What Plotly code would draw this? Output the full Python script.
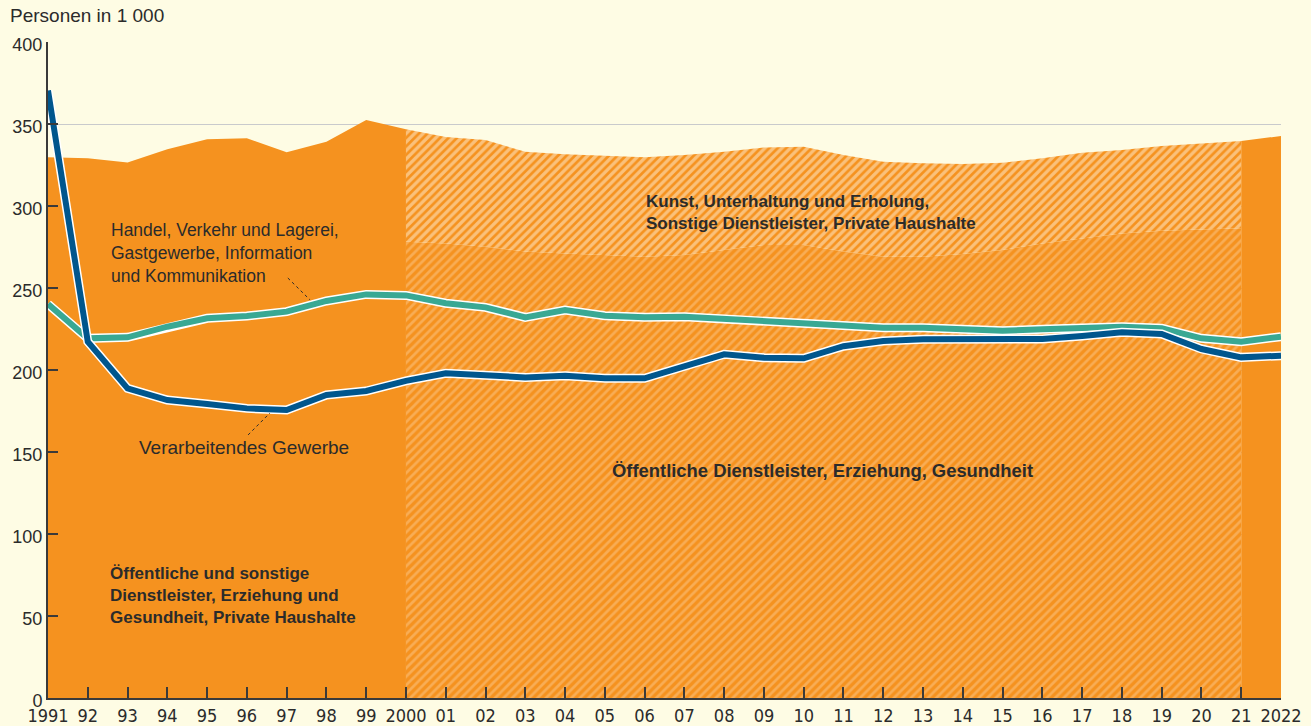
import plotly.graph_objects as go

# ---- data (Personen in 1 000) ----
years = list(range(1991, 2023))
tick_text = ["1991", "92", "93", "94", "95", "96", "97", "98", "99", "2000",
             "01", "02", "03", "04", "05", "06", "07", "08", "09", "10",
             "11", "12", "13", "14", "15", "16", "17", "18", "19", "20",
             "21", "2022"]

# total of the services area (top edge of the orange area)
total_services = [329.7, 329.1, 326.6, 334.6, 340.7, 341.3, 332.7, 339.2, 352.4, 346.8,
                  342.0, 340.2, 333.1, 331.5, 330.5, 329.7, 331.1, 333.1, 335.6, 336.2,
                  331.1, 327.0, 326.0, 325.6, 326.4, 329.1, 332.5, 334.1, 336.6, 338.2,
                  339.6, 342.7]

# split 2000-2021: Öffentliche Dienstleister, Erziehung, Gesundheit
split_years = list(range(2000, 2022))
oeffentliche = [278.2, 277.2, 275.2, 272.2, 271.1, 270.1, 269.1, 270.1, 273.2, 276.2,
                276.2, 272.2, 269.1, 269.1, 270.7, 273.2, 277.2, 280.3, 283.3, 284.9,
                285.8, 286.4]

handel = [240.2, 219.3, 219.9, 226.4, 231.5, 232.9, 235.6, 242.1, 246.1, 245.5,
          240.7, 238.2, 232.1, 236.6, 233.1, 232.1, 232.5, 231.1, 229.9, 227.8,
          226.9, 225.8, 225.8, 225.0, 224.0, 224.8, 225.4, 226.4, 225.4, 219.3,
          217.3, 220.3]

verarbeitend = [370.5, 217.3, 188.8, 181.7, 179.3, 176.6, 175.6, 184.8, 187.2, 193.4,
                198.0, 197.0, 195.5, 196.5, 194.9, 194.9, 202.4, 209.6, 207.5, 207.1,
                214.5, 217.7, 218.7, 218.9, 218.9, 218.9, 220.7, 223.0, 222.0, 212.8,
                207.7, 208.7]

# ---- styles ----
BG = "#FEFCE4"
ORANGE = "#F5921F"
BLUE = "#00568D"
GREEN = "#39A893"
TXT = "#2B2B2B"
FONT = "Liberation Sans, Arial, sans-serif"
NARROW = "Liberation Sans Narrow, Arial Narrow, DejaVu Sans Condensed, Liberation Sans, sans-serif"

idx = {y: i for i, y in enumerate(years)}
i2000, i2021 = idx[2000], idx[2021]

fig = go.Figure()

# solid area 1991-2000
fig.add_trace(go.Scatter(x=years[:i2000 + 1], y=total_services[:i2000 + 1],
                         mode="lines", line=dict(width=0), fill="tozeroy",
                         fillcolor=ORANGE, hoverinfo="skip", showlegend=False))
# hatched lower band 2000-2021
fig.add_trace(go.Scatter(x=split_years, y=oeffentliche, mode="lines", line=dict(width=0),
                         fill="tozeroy", fillcolor=ORANGE,
                         fillpattern=dict(shape="/", bgcolor=ORANGE, fgcolor="#FCC78C",
                                          size=6, solidity=0.45),
                         hoverinfo="skip", showlegend=False))
# hatched upper band 2000-2021
fig.add_trace(go.Scatter(x=split_years, y=total_services[i2000:i2021 + 1], mode="lines",
                         line=dict(width=0), fill="tonexty", fillcolor=ORANGE,
                         fillpattern=dict(shape="/", bgcolor=ORANGE, fgcolor="#FFF0D8",
                                          size=6, solidity=0.55),
                         hoverinfo="skip", showlegend=False))
# solid area 2021-2022
fig.add_trace(go.Scatter(x=years[i2021:], y=total_services[i2021:], mode="lines",
                         line=dict(width=0), fill="tozeroy", fillcolor=ORANGE,
                         hoverinfo="skip", showlegend=False))

# lines with white outline
for vals, col in ((handel, GREEN), (verarbeitend, BLUE)):
    fig.add_trace(go.Scatter(x=years, y=vals, mode="lines",
                             line=dict(color="white", width=9),
                             hoverinfo="skip", showlegend=False))
    fig.add_trace(go.Scatter(x=years, y=vals, mode="lines",
                             line=dict(color=col, width=6),
                             showlegend=False))

ann = []
def txt(x, y, s, bold=False, xanchor="left", size=18, align="left"):
    ann.append(dict(x=x, y=y, xref="x", yref="y", text=f"<b>{s}</b>" if bold else s,
                    showarrow=False, xanchor=xanchor, yanchor="middle", align=align,
                    font=dict(family=FONT, size=size, color=TXT)))

txt(1992.54, 271.3, "Handel, Verkehr und Lagerei,<br>Gastgewerbe, Information<br>und Kommunikation",
    size=17.5)
txt(1995.94, 153.0, "Verarbeitendes Gewerbe", xanchor="center", size=19)
txt(2005.99, 296.0, "Kunst, Unterhaltung und Erholung,<br>Sonstige Dienstleister, Private Haushalte",
    bold=True, size=17)
txt(2010.46, 139.0, "Öffentliche Dienstleister, Erziehung, Gesundheit", xanchor="center",
    bold=True, size=18.4)
txt(1992.52, 62.6, "Öffentliche und sonstige<br>Dienstleister, Erziehung und<br>Gesundheit, Private Haushalte",
    bold=True, size=17)

ann.append(dict(x=-0.0324, y=1.04, xref="paper", yref="paper", text="Personen in 1 000",
                showarrow=False, xanchor="left", yanchor="middle",
                font=dict(family=FONT, size=19, color=TXT)))
fig.update_layout(annotations=ann)

# dashed leader lines
fig.add_shape(type="line", x0=1997.03, y0=256.1, x1=1997.59, y1=242.7, xref="x", yref="y",
              line=dict(color=TXT, width=1, dash="3px,3px"))
fig.add_shape(type="line", x0=1996.03, y0=160.4, x1=1996.58, y1=173.8, xref="x", yref="y",
              line=dict(color=TXT, width=1, dash="3px,3px"))

fig.update_xaxes(range=[1991, 2022], tickvals=years, ticktext=tick_text, tickangle=0,
                 showgrid=False, zeroline=False, showline=True, linecolor="#3A3A3A",
                 linewidth=2, ticks="inside", ticklen=11, tickwidth=1.5, tickcolor="#3A3A3A",
                 tickfont=dict(family=NARROW, size=18, color=TXT), ticklabelstandoff=0,
                 automargin=False, fixedrange=True)
fig.update_yaxes(range=[0, 400], tickvals=[0, 50, 100, 150, 200, 250, 300, 350, 400],
                 showgrid=True, gridcolor="#C9CACC", gridwidth=1, zeroline=False,
                 showline=True, linecolor="#3A3A3A", linewidth=2, ticks="inside",
                 ticklen=10, tickwidth=1.5, tickcolor="#3A3A3A",
                 tickfont=dict(family=FONT, size=18, color=TXT), ticklabelshift=3,
                 automargin=False, fixedrange=True)

fig.update_layout(width=1311, height=726, margin=dict(l=48, r=30, t=42, b=28),
                  paper_bgcolor=BG, plot_bgcolor=BG, showlegend=False,
                  hovermode=False)

fig.write_html("out.html", post_script="document.body.style.margin='0';",
               config={"displayModeBar": False})
